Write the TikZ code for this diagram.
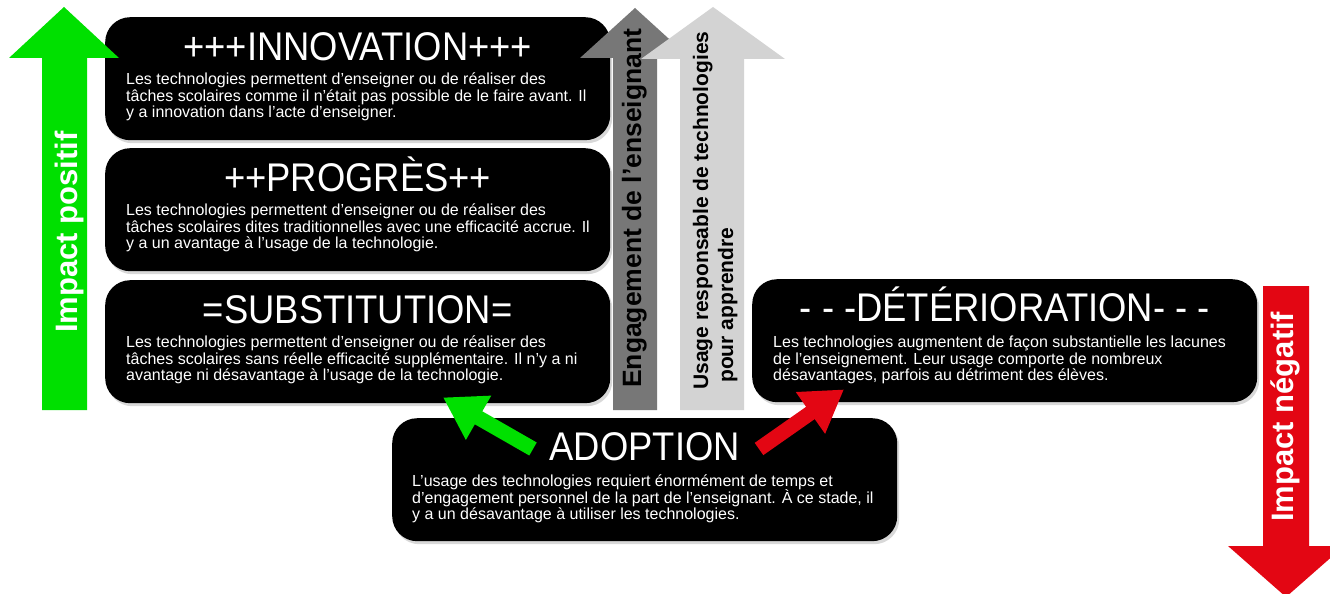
\documentclass[tikz,border=0pt]{standalone}
\usepackage{fontspec}
\setmainfont{Liberation Sans}
\usetikzlibrary{arrows.meta,shadows,calc}
\definecolor{pgreen}{RGB}{0,224,0}
\definecolor{pred}{RGB}{227,6,19}
\definecolor{dgray}{RGB}{119,119,119}
\definecolor{lgray}{RGB}{211,211,211}
\newcommand{\narrow}[1]{\scalebox{0.91}[1]{#1}}
\newcommand{\tightlines}{\lineskiplimit=-20pt\relax\lineskip=0pt\relax}
\tikzset{
  card/.style={fill=black, rounded corners=25pt, minimum width=505pt, minimum height=123pt,
    inner sep=0pt, anchor=north west,
    drop shadow={opacity=0.3, shadow xshift=2pt, shadow yshift=-3pt}},
  ttl/.style={text=white, font=\fontsize{40}{42}\selectfont, anchor=base, inner sep=0pt},
  body/.style={text=white, font=\fontsize{16}{16.5}\selectfont, execute at begin node=\tightlines,
    align=left, anchor=north west, inner sep=0pt},
  vlabel/.style={rotate=90, anchor=base west, inner sep=0pt},
  blockarrow/.style={line width=15pt, -{Triangle[width=48pt,length=41pt]}},
}
\begin{document}
\begin{tikzpicture}[x=1pt,y=-1pt]
\useasboundingbox (0,0) rectangle (1330,594);
\fill[white] (0,0) rectangle (1330,594);

% cards
\node[card] (inno) at (105,17) {};
\node[card] (prog) at (105,148) {};
\node[card] (subs) at (105,280) {};
\node[card] (deter) at (752,279) {};
\node[card] (adop) at (392,418) {};

% titles
\node[ttl] (innoT) at ($(inno.north)+(0,43)$) {\narrow{+++INNOVATION+++}};
\node[ttl] (progT) at ($(prog.north)+(0,43)$) {\narrow{++PROGRÈS++}};
\node[ttl] (subsT) at ($(subs.north)+(0,43)$) {\narrow{=SUBSTITUTION=}};
\node[ttl] (deterT) at ($(deter.north)+(0,42)$) {\narrow{- - -DÉTÉRIORATION- - -}};
\node[ttl] (adopT) at ($(adop.north)+(0,42)$) {\narrow{ADOPTION}};

% bodies
\node[body] (innoB) at ($(inno.north west)+(21,56)$) {Les technologies permettent d’enseigner ou de réaliser des\\tâches scolaires comme il n’était pas possible de le faire avant. Il\\y a innovation dans l’acte d’enseigner.};
\node[body] (progB) at ($(prog.north west)+(21,56)$) {Les technologies permettent d’enseigner ou de réaliser des\\tâches scolaires dites traditionnelles avec une efficacité accrue. Il\\y a un avantage à l’usage de la technologie.};
\node[body] (subsB) at ($(subs.north west)+(21,56)$) {Les technologies permettent d’enseigner ou de réaliser des\\tâches scolaires sans réelle efficacité supplémentaire. Il n’y a ni\\avantage ni désavantage à l’usage de la technologie.};
\node[body] (deterB) at ($(deter.north west)+(21,57)$) {Les technologies augmentent de façon substantielle les lacunes\\de l’enseignement. Leur usage comporte de nombreux\\désavantages, parfois au détriment des élèves.};
\node[body] (adopB) at ($(adop.north west)+(20,57)$) {L’usage des technologies requiert énormément de temps et\\d’engagement personnel de la part de l’enseignant. À ce stade, il\\y a un désavantage à utiliser les technologies.};

% vertical arrows
\fill[pgreen] (42,410) -- (42,58) -- (9,58) -- (64,7) -- (119,58) -- (87,58) -- (87,410) -- cycle;
\fill[dgray] (613,410) -- (613,58) -- (580,58) -- (635,8) -- (690,58) -- (657,58) -- (657,410) -- cycle;
\fill[lgray] (680,410) -- (680,59) -- (641,59) -- (713,7) -- (785,59) -- (744,59) -- (744,410) -- cycle;
\fill[pred] (1263,286) -- (1263,546) -- (1228,546) -- (1286,597) -- (1344,546) -- (1309,546) -- (1309,286) -- cycle;

% arrow labels
\node[vlabel, text=white, font=\bfseries\fontsize{31}{33}\selectfont] (pos) at (77,333) {Impact positif};
\node[vlabel, text=white, font=\bfseries\fontsize{31}{33}\selectfont] (neg) at (1293,522) {Impact négatif};
\node[vlabel, text=black, font=\bfseries\fontsize{26.5}{30}\selectfont] (eng) at (641,388) {Engagement de l’enseignant};
\node[vlabel, text=black, font=\bfseries\fontsize{21}{24}\selectfont] (usa) at (708,390) {Usage responsable de technologies};
\node[vlabel, text=black, font=\bfseries\fontsize{21}{24}\selectfont] (usb) at (733,383) {pour apprendre};

% adoption connectors
\coordinate (gtail) at ($(adop.north west)+(141,31)$);
\coordinate (gtip) at ($(subs.south west)+(338,-6)$);
\coordinate (rtail) at ($(adop.north west)+(367,31)$);
\coordinate (rtip) at ($(deter.south west)+(92,-13)$);
\draw[blockarrow, pgreen] (gtail) -- (gtip);
\draw[blockarrow, pred] (rtail) -- (rtip);
\end{tikzpicture}
\end{document}
